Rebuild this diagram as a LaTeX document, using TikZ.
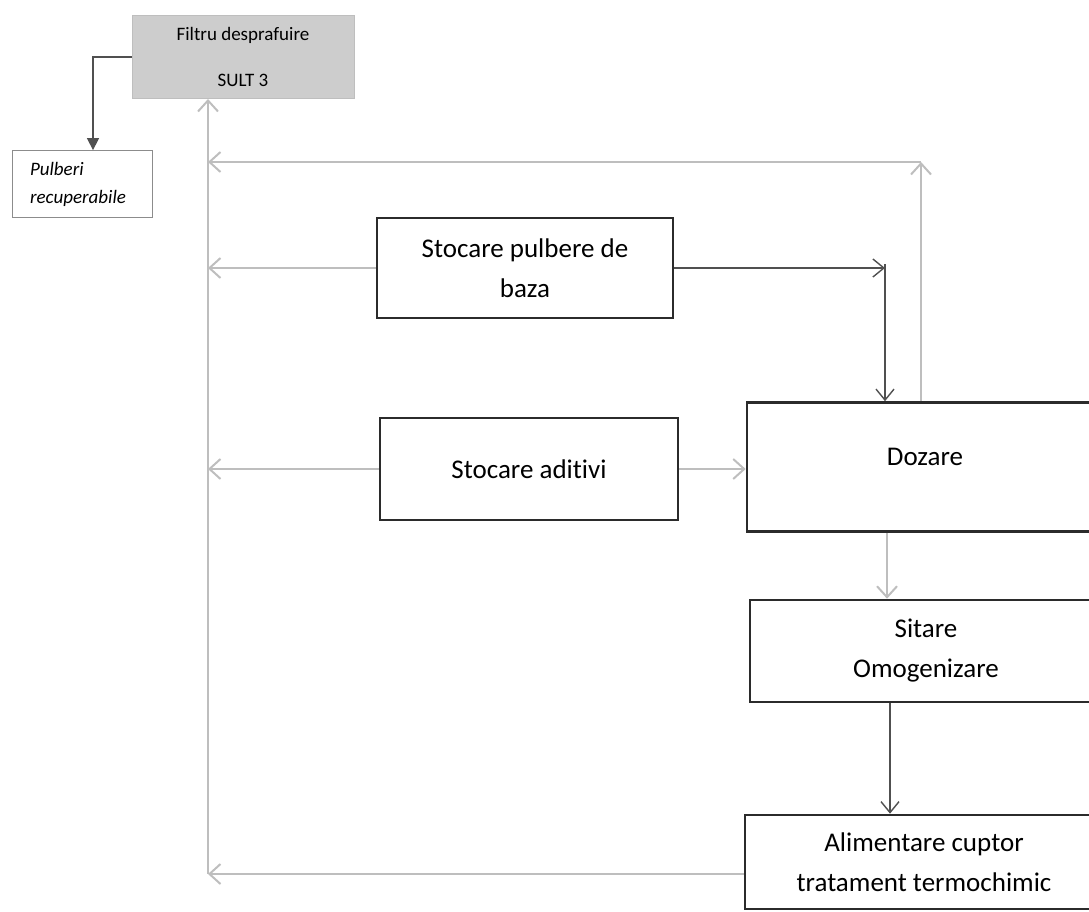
\documentclass[tikz,border=0pt]{standalone}
\usepackage{fontspec}
\setmainfont{Carlito}[Ligatures=NoCommon]
\usetikzlibrary{arrows.meta}
\definecolor{boxline}{HTML}{2B2B2B}
\definecolor{flowgray}{HTML}{BEBEBE}
\definecolor{flowdark}{HTML}{505050}
\definecolor{filtfill}{HTML}{CDCDCD}
\begin{document}
\begin{tikzpicture}[x=1pt,y=-1pt,
    proc/.style={draw=boxline,line width=2.6pt,fill=white,inner sep=0pt,align=center,
        font=\fontsize{27}{40}\selectfont},
    gri/.style={draw=flowgray,line width=2.4pt,-{Straight Barb[length=11pt,width=20pt,line width=2pt]}},
    negru/.style={draw=flowdark,line width=1.6pt,-{Straight Barb[length=11pt,width=18pt,line width=1.4pt]}}]
    \useasboundingbox (0,0) rectangle (1089,911);
    % cutii
    \node [draw=flowgray,line width=1pt,fill=filtfill,minimum width=222,minimum height=83,inner sep=0pt,
        align=center,font=\fontsize{19}{46}\selectfont] (filtru) at (243,57) {Filtru desprafuire\\SULT 3};
    \node [draw=black!45,line width=0.8pt,minimum width=140,minimum height=67,inner sep=0pt,
        text width=104,align=left,font=\itshape\fontsize{19}{28}\selectfont] (pulberi) at (82,184) {Pulberi\\recuperabile};
    \node [proc,minimum width=296,minimum height=100] (pulbere) at (525,268) {Stocare pulbere de\\baza};
    \node [proc,minimum width=298,minimum height=102] (aditivi) at (529,469) {Stocare aditivi};
    \node [proc,minimum width=356,minimum height=129] (dozare) at (925,467) {\raisebox{20pt}{Dozare}};
    \node [proc,minimum width=352,minimum height=102] (sitare) at (926,651) {Sitare\\Omogenizare};
    \node [proc,minimum width=358,minimum height=94] (alim) at (924,862) {Alimentare cuptor\\tratament termochimic};
    % puncte pe trasee
    \coordinate (colbot) at (208,874);
    \coordinate (retur) at (921,162);
    \coordinate (cot) at (885,264);
    % legaturi
    \draw [draw=flowdark,line width=1.4pt,-{Triangle[length=12pt,width=12pt]}] (filtru.west) -| ([xshift=11]pulberi.north);
    \draw [gri] (alim.west |- colbot) -- (colbot);
    \draw [gri] (colbot) -- (colbot |- filtru.south);
    \draw [gri] (dozare.north -| retur) -- (retur);
    \draw [gri] (retur) -- (retur -| colbot);
    \draw [gri] (pulbere.west) -- (pulbere.west -| colbot);
    \draw [gri] (aditivi.west) -- (aditivi.west -| colbot);
    \draw [gri] (aditivi.east) -- (dozare.west |- aditivi.east);
    \draw [negru] (pulbere.east) -- (pulbere.east -| cot);
    \draw [negru] (cot) -- (cot |- dozare.north);
    \draw [gri] ([xshift=-38]dozare.south) -- ([xshift=-38]dozare.south |- sitare.north);
    \draw [negru] ([xshift=-36]sitare.south) -- ([xshift=-36]sitare.south |- alim.north);
\end{tikzpicture}
\end{document}
